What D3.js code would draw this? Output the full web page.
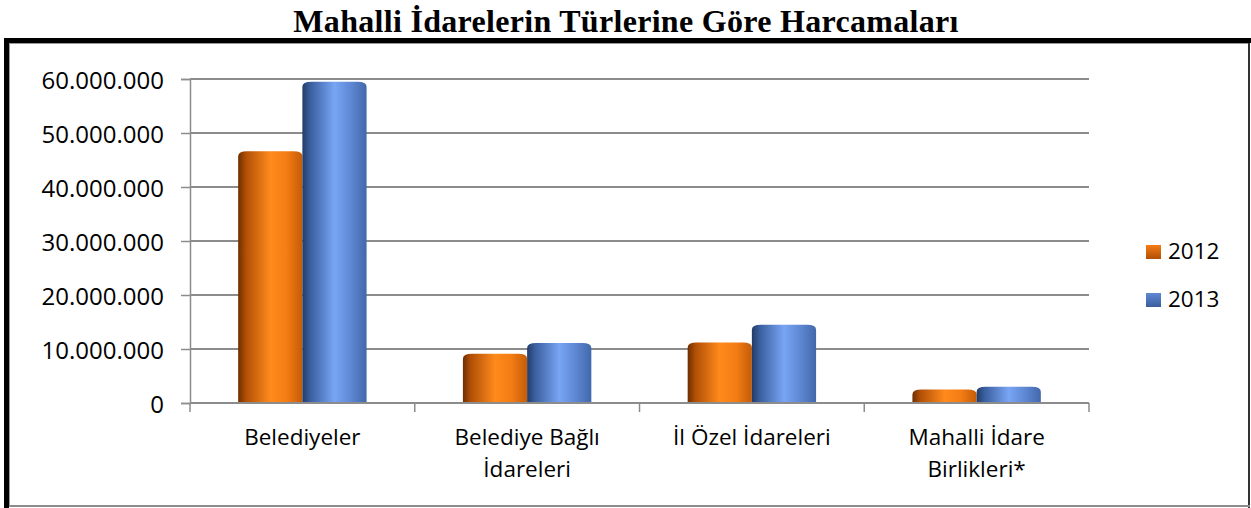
<!DOCTYPE html>
<html>
<head>
<meta charset="utf-8">
<script src="https://cdn.jsdelivr.net/npm/d3@7"></script>
<style>
  body { margin: 0; background: #fff; }
  svg { display: block; }
</style>
</head>
<body>
<div id="chart"></div>
<script>
// data
const categories = [["Belediyeler"], ["Belediye Bağlı", "İdareleri"], ["İl Özel İdareleri"], ["Mahalli İdare", "Birlikleri*"]];
const seriesNames = ["2012", "2013"];
const values2012 = [46600000, 9100000, 11200000, 2500000];
const values2013 = [59500000, 11100000, 14500000, 3000000];
const yTicks = [0, 10000000, 20000000, 30000000, 40000000, 50000000, 60000000];
const title = "Mahalli İdarelerin Türlerine Göre Harcamaları";

const width = 1251;
const height = 508;
const plot = { left: 190, right: 1089, top: 79, bottom: 403 };

const trFormat = d3.formatLocale({ decimal: ",", thousands: ".", grouping: [3], currency: ["", ""] }).format(",d");

const svg = d3.select("#chart")
  .append("svg")
  .attr("width", width)
  .attr("height", height)
  .attr("viewBox", [0, 0, width, height]);

// gradients for the cylinder look
const defs = svg.append("defs");
const grads = {
  "2012": [["0%", "#6e2e00"], ["12%", "#b04f06"], ["50%", "#ff8a1c"], ["75%", "#f57d14"], ["100%", "#c45c08"]],
  "2013": [["0%", "#223c68"], ["12%", "#3a5e9e"], ["50%", "#78a5f4"], ["75%", "#5f88d4"], ["100%", "#4268aa"]]
};
Object.entries(grads).forEach(([k, stops]) => {
  const g = defs.append("linearGradient").attr("id", "g" + k).attr("x1", 0).attr("x2", 1).attr("y1", 0).attr("y2", 0);
  stops.forEach(s => g.append("stop").attr("offset", s[0]).attr("stop-color", s[1]));
  const gv = defs.append("linearGradient").attr("id", "gl" + k).attr("x1", 0).attr("x2", 0).attr("y1", 0).attr("y2", 1);
  gv.append("stop").attr("offset", "0%").attr("stop-color", stops[3][1]);
  gv.append("stop").attr("offset", "100%").attr("stop-color", stops[1][1]);
});

// frame
svg.append("rect").attr("x", 4).attr("y", 38).attr("width", 1247).attr("height", 5).attr("fill", "#000");
svg.append("rect").attr("x", 4).attr("y", 38).attr("width", 5).attr("height", 470).attr("fill", "#000");
svg.append("rect").attr("x", 1248).attr("y", 43).attr("width", 2).attr("height", 465).attr("fill", "#333");
svg.append("rect").attr("x", 9).attr("y", 505).attr("width", 1241).attr("height", 2).attr("fill", "#8c8c8c");
svg.append("rect").attr("x", 9).attr("y", 43).attr("width", 1239).attr("height", 1).attr("fill", "#999");
svg.append("rect").attr("x", 9).attr("y", 43).attr("width", 1).attr("height", 463).attr("fill", "#999");

svg.append("text")
  .attr("x", 626)
  .attr("y", 32)
  .attr("text-anchor", "middle")
  .attr("font-family", "'Liberation Serif', 'Times New Roman', serif")
  .attr("font-weight", "bold")
  .attr("font-size", "32px")
  .attr("letter-spacing", "0.3px")
  .attr("fill", "#000")
  .text(title);

const x = d3.scaleBand()
  .domain(d3.range(categories.length))
  .range([plot.left, plot.right]);

const xs = d3.scaleBand()
  .domain(seriesNames)
  .range([0, x.bandwidth()])
  .paddingOuter(0.75);

const y = d3.scaleLinear()
  .domain([0, 60000000])
  .range([plot.bottom, plot.top]);

// gridlines
svg.append("g")
  .selectAll("line")
  .data(yTicks.filter(d => d > 0))
  .join("line")
    .attr("x1", plot.left)
    .attr("x2", plot.right)
    .attr("y1", d => y(d))
    .attr("y2", d => y(d))
    .attr("stroke", "#8c8c8c")
    .attr("stroke-width", 2);

// y axis
svg.append("g")
  .attr("transform", `translate(${plot.left},0)`)
  .call(d3.axisLeft(y).tickValues(yTicks).tickFormat(trFormat).tickSize(9).tickPadding(17))
  .call(g => g.select(".domain").attr("stroke", "#8c8c8c").attr("stroke-width", 1.5))
  .call(g => g.selectAll(".tick line").attr("stroke", "#8c8c8c").attr("stroke-width", 1.5))
  .call(g => g.selectAll(".tick text")
    .attr("font-family", "'Open Sans', sans-serif")
    .attr("font-size", "24px")
    .attr("fill", "#000")
    .attr("dy", "0.38em"));

// bars
const series = [values2012, values2013];
const barPath = (x0, w, top, base) => {
  const rx = Math.min(9, w / 2), ry = Math.min(5, (base - top) / 2);
  return `M${x0},${base}V${top + ry}Q${x0},${top} ${x0 + rx},${top}H${x0 + w - rx}Q${x0 + w},${top} ${x0 + w},${top + ry}V${base}Z`;
};

seriesNames.forEach((name, si) => {
  svg.append("g")
    .attr("fill", `url(#g${name})`)
    .selectAll("path")
    .data(series[si])
    .join("path")
      .attr("d", (d, i) => barPath(x(i) + xs(name), xs.bandwidth(), y(d), y(0)));
});

// x axis baseline and boundary ticks
svg.append("g")
  .attr("transform", `translate(0,${plot.bottom})`)
  .call(g => g.append("line")
    .attr("x1", plot.left).attr("x2", plot.right)
    .attr("stroke", "#8c8c8c").attr("stroke-width", 2))
  .call(g => g.selectAll(".bt")
    .data(d3.range(categories.length + 1))
    .join("line")
      .attr("class", "bt")
      .attr("x1", i => plot.left + i * x.step())
      .attr("x2", i => plot.left + i * x.step())
      .attr("y1", 0)
      .attr("y2", 9)
      .attr("stroke", "#8c8c8c")
      .attr("stroke-width", 1.5));

// category labels
svg.append("g")
  .selectAll("text")
  .data(categories)
  .join("text")
    .attr("text-anchor", "middle")
    .attr("font-family", "'Open Sans', sans-serif")
    .attr("font-size", "22.5px")
    .attr("fill", "#000")
    .each(function (lines, i) {
      d3.select(this).selectAll("tspan")
        .data(lines)
        .join("tspan")
          .attr("x", x(i) + x.bandwidth() / 2)
          .attr("y", (d, j) => 445 + j * 32)
          .text(d => d);
    });

// legend
const legend = svg.append("g")
  .selectAll("g")
  .data(seriesNames)
  .join("g")
    .attr("transform", (d, i) => `translate(1146,${245 + i * 48})`);

legend.append("rect")
  .attr("width", 15)
  .attr("height", 14)
  .attr("fill", d => `url(#gl${d})`);

legend.append("text")
  .attr("x", 22)
  .attr("y", 14)
  .attr("font-family", "'Open Sans', sans-serif")
  .attr("font-size", "22.5px")
  .attr("fill", "#000")
  .text(d => d);
</script>
</body>
</html>
